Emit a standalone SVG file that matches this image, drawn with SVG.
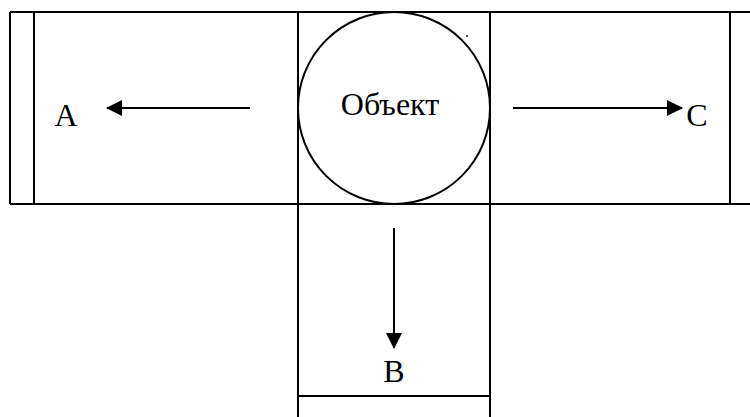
<svg xmlns="http://www.w3.org/2000/svg" width="750" height="417" viewBox="0 0 750 417">
<style>
.ln{stroke:#000;stroke-width:2;fill:none}
.ar{stroke:#000;stroke-width:2;fill:none}
.t{font-family:"Liberation Serif","Times New Roman",serif;font-size:32px;fill:#000}
</style>
<defs>
<marker id="ah" viewBox="0 0 16 16" refX="15" refY="8" markerWidth="16" markerHeight="16" markerUnits="userSpaceOnUse" orient="auto">
<path d="M0,0 L16,8 L0,16 Z" fill="#000"/>
</marker>
</defs>
<rect width="750" height="417" fill="#fff"/>
<g id="frame">
<line class="ln" x1="10" y1="12" x2="750" y2="12"/>
<line class="ln" x1="10" y1="204" x2="750" y2="204"/>
<line class="ln" x1="10" y1="12" x2="10" y2="204"/>
<line class="ln" x1="34" y1="12" x2="34" y2="204"/>
<line class="ln" x1="298" y1="12" x2="298" y2="417"/>
<line class="ln" x1="490" y1="12" x2="490" y2="417"/>
<line class="ln" x1="730" y1="12" x2="730" y2="204"/>
<line class="ln" x1="298" y1="396" x2="490" y2="396"/>
</g>
<g id="object">
<circle class="ln" cx="394" cy="108" r="96"/>
<text class="t" x="390" y="115" text-anchor="middle">Объект</text>
<circle cx="467" cy="36" r="0.9" fill="#000"/>
</g>
<g id="A"><text class="t" x="66" y="126" text-anchor="middle">A</text></g>
<g id="B"><text class="t" x="394" y="382" text-anchor="middle">B</text></g>
<g id="C"><text class="t" x="697" y="126" text-anchor="middle">C</text></g>
<g id="connectors">
<line class="ar" x1="250" y1="108" x2="107" y2="108" marker-end="url(#ah)"/>
<line class="ar" x1="513" y1="108" x2="682" y2="108" marker-end="url(#ah)"/>
<line class="ar" x1="394" y1="228" x2="394" y2="348" marker-end="url(#ah)"/>
</g>
</svg>
